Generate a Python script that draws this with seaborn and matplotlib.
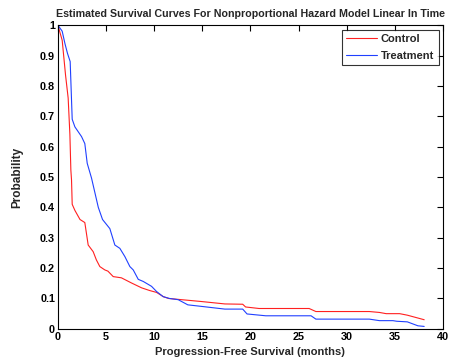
import pandas as pd
import seaborn as sns
import matplotlib.pyplot as plt

# estimated survival curves
control_t = [0, 0.45, 0.8, 1.07, 1.25, 1.35, 1.42, 1.49, 1.77, 2.3, 2.8, 3.15, 3.67, 4.0,
             4.36, 4.88, 5.2, 5.75, 6.6, 7.65, 8.7, 9.55, 10.25, 10.95, 11.5, 14.9, 17.35,
             19.2, 19.5, 20.9, 26.1, 26.8, 32.35, 33.4, 34.1, 35.5, 36.3, 38.05]
control_p = [1.0, 0.95, 0.835, 0.76, 0.64, 0.523, 0.49, 0.41, 0.39, 0.36, 0.35, 0.276, 0.254, 0.227,
             0.205, 0.194, 0.19, 0.172, 0.168, 0.151, 0.135, 0.126, 0.12, 0.106, 0.10, 0.09, 0.082,
             0.081, 0.072, 0.067, 0.067, 0.057, 0.057, 0.054, 0.05, 0.05, 0.045, 0.03]

treat_t = [0, 0.45, 0.73, 1.0, 1.28, 1.49, 1.77, 2.46, 2.8, 3.05, 3.5, 4.2, 4.64, 5.4, 5.92,
           6.44, 6.96, 7.48, 7.83, 8.35, 8.87, 9.73, 10.25, 10.94, 11.6, 12.5, 13.5, 14.9, 17.35,
           19.2, 19.65, 21.6, 26.3, 26.8, 32.35, 33.4, 34.8, 35.2, 36.3, 37.4, 38.05]
treat_p = [1.0, 0.98, 0.94, 0.907, 0.88, 0.69, 0.665, 0.633, 0.61, 0.545, 0.496, 0.40, 0.36, 0.33, 0.276,
           0.265, 0.238, 0.205, 0.194, 0.163, 0.156, 0.14, 0.123, 0.106, 0.10, 0.096, 0.079, 0.074, 0.065,
           0.065, 0.049, 0.043, 0.043, 0.032, 0.032, 0.027, 0.027, 0.025, 0.023, 0.01, 0.008]

data = pd.concat([
    pd.DataFrame({"t": control_t, "p": control_p, "group": "Control"}),
    pd.DataFrame({"t": treat_t, "p": treat_p, "group": "Treatment"}),
])

sns.set_style("white")
plt.rcParams["font.family"] = ["Liberation Sans", "DejaVu Sans"]
plt.rcParams["font.weight"] = "bold"

fig = plt.figure(figsize=(4.52, 3.59), dpi=100)
ax = fig.add_axes([0.128, 0.084, 0.852, 0.846])

sns.lineplot(data=data, x="t", y="p", hue="group", palette={"Control": "#ff2020", "Treatment": "#2040ff"},
             sort=False, estimator=None, linewidth=0.8, ax=ax)

ax.set_xlim(0, 40)
ax.set_ylim(0, 1)
ax.set_xticks(range(0, 41, 5))
ax.set_yticks([0, 0.1, 0.2, 0.3, 0.4, 0.5, 0.6, 0.7, 0.8, 0.9, 1])
ax.set_yticklabels(["0", "0.1", "0.2", "0.3", "0.4", "0.5", "0.6", "0.7", "0.8", "0.9", "1"])
ax.tick_params(direction="in", top=True, right=True, length=4, width=0.8, labelsize=7.8, pad=2,
               color="black", labelcolor="black")
for lab in ax.get_xticklabels() + ax.get_yticklabels():
    lab.set_fontweight("bold")
for s in ax.spines.values():
    s.set_visible(True)
    s.set_color("black")
    s.set_linewidth(0.8)

ax.set_title("Estimated Survival Curves For Nonproportional Hazard Model Linear In Time",
             fontsize=7.65, fontweight="bold", pad=6)
ax.set_xlabel("Progression-Free Survival (months)", fontsize=8, fontweight="bold", labelpad=4)
ax.set_ylabel("Probability", fontsize=8.5, fontweight="bold", labelpad=12)

leg = ax.legend(loc="upper right", fontsize=8, frameon=True, fancybox=False, handlelength=2.8,
                borderaxespad=0.4, borderpad=0.4, labelspacing=0.6, handletextpad=0.3)
leg.get_frame().set_edgecolor("black")
leg.get_frame().set_linewidth(0.8)
for t in leg.get_texts():
    t.set_fontweight("bold")

plt.savefig("out.png", dpi=100)
